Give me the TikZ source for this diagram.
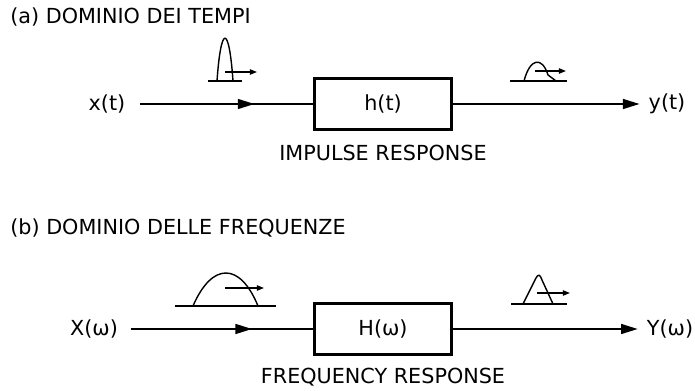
\documentclass[tikz,border=0pt]{standalone}
\usepackage{fontspec}
\setmainfont{DejaVu Sans}
\usetikzlibrary{arrows.meta,decorations.markings}

\begin{document}
\begin{tikzpicture}[
    x=0.02cm, y=-0.02cm,
    font=\fontsize{11.8}{14}\selectfont,
    sysbox/.style={draw, line width=1.2pt, minimum width=2.74cm, minimum height=1.02cm},
    sig/.style={inner sep=2pt},
    arr/.style={-{Triangle[length=9.5pt,width=5.6pt]}, line width=1.1pt},
    midarr/.style={line width=1.1pt, postaction={decorate},
                   decoration={markings,
                     mark=at position 0.68 with {\arrow{Triangle[length=9.5pt,width=5.6pt]}}}},
    wave/.style={line width=0.8pt},
    wavearr/.style={-{Triangle[length=4pt,width=3pt]}, line width=0.8pt}
]
    \useasboundingbox (0,0) rectangle (695,391);

    % (a) time domain
    \node[anchor=west, inner sep=0pt] (titA) at (10,17) {(a) DOMINIO DEI TEMPI};
    \node[sig] (xt) at (107,104) {x(t)};
    \node[sysbox] (ht) at (383,104) {h(t)};
    \node[sig] (yt) at (667,104) {y(t)};
    \node (irsp) at (383,153) {IMPULSE RESPONSE};

    \draw[midarr, shorten <=6pt] (xt) -- (ht);
    \draw[arr, shorten >=3pt] (ht) -- (yt);

    % pulse shapes
    \draw[wave] (208,81) -- (242,81);
    \draw[wave] (217,81) .. controls (221,24) and (229,24) .. (233,81);
    \draw[wavearr] (225,72) -- (257,72);

    \draw[wave] (510,81) -- (567,81);
    \draw[wave] (524,81) .. controls (530,58) and (542,56) .. (548,75) -- (556,81);
    \draw[wavearr] (535,71) -- (566,71);

    % (b) frequency domain
    \node[anchor=west, inner sep=0pt] (titB) at (10,228) {(b) DOMINIO DELLE FREQUENZE};
    \node[sig] (xw) at (94,329) {X(ω)};
    \node[sysbox] (hw) at (383,329) {H(ω)};
    \node[sig] (yw) at (670,329) {Y(ω)};
    \node (frsp) at (383,377) {FREQUENCY RESPONSE};

    \draw[midarr, shorten <=5pt] (xw) -- (hw);
    \draw[arr, shorten >=3pt] (hw) -- (yw);

    \draw[wave] (175,306) -- (276,306);
    \draw[wave] (193,306) .. controls (212,262) and (240,262) .. (258,306);
    \draw[wavearr] (225,288) -- (264,288);

    \draw[wave] (511,304) -- (567,304);
    \draw[wave] (523,304) -- (536,278) .. controls (538,274) and (540,274) .. (542,280) -- (553,304);
    \draw[wavearr] (537,293) -- (570,293);
\end{tikzpicture}
\end{document}
